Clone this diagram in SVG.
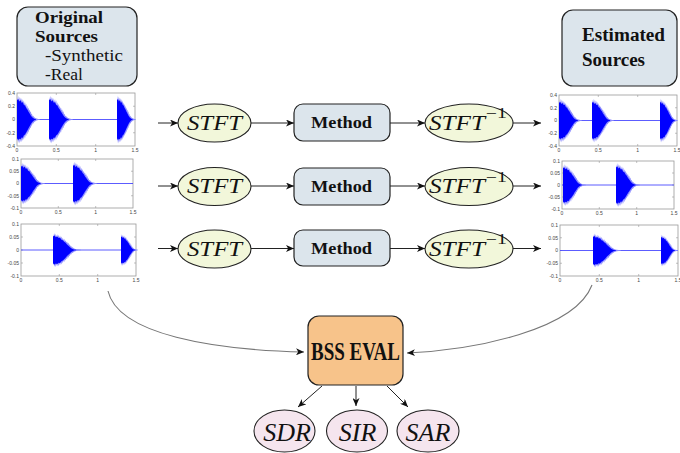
<svg xmlns="http://www.w3.org/2000/svg" xmlns:xlink="http://www.w3.org/1999/xlink" width="680" height="453" viewBox="0 0 680 453">
<style>
.box{fill:#dce5ec;stroke:#222;stroke-width:1.2}
.ell{fill:#f2f7da;stroke:#222;stroke-width:1.1}
.met{fill:#f5e5ee;stroke:#222;stroke-width:1.1}
.eval{fill:#f7c38a;stroke:#222;stroke-width:1.2}
.bt{font-family:"Liberation Serif",serif;font-weight:bold;fill:#111}
.rt{font-family:"Liberation Serif",serif;fill:#111}
.it{font-family:"Liberation Serif",serif;font-style:italic;fill:#111}
.tk{font-family:"Liberation Sans",sans-serif;font-size:5px;fill:#444}
.ax{fill:#fff;stroke:#999;stroke-width:0.8}
.tm{stroke:#999;stroke-width:0.6}
.zl{stroke:#4a4aff;stroke-width:0.9}
.cn{fill:none;stroke:#222;stroke-width:1}
.cv{fill:none;stroke:#777;stroke-width:1.1}
</style>
<defs>
<marker id="ah" markerWidth="9" markerHeight="7" refX="8" refY="3.5" orient="auto" markerUnits="userSpaceOnUse">
<path d="M0,0 L8,3.5 L0,7 L2.2,3.5 z" fill="#111"/>
</marker>
<g id="burst">
<path fill="#8a8aff" d="M0,0 L0,-0.95 0.5,-0.75 1,-1 1.5,-0.8 2,-0.95 2.5,-0.78 3,-0.92 3.5,-0.75 4,-0.9 4.5,-0.72 5,-0.85 5.5,-0.7 6,-0.8 6.5,-0.62 7,-0.72 7.5,-0.58 8,-0.66 8.5,-0.5 9,-0.58 9.5,-0.44 10,-0.5 10.5,-0.38 11,-0.42 11.5,-0.3 12,-0.34 12.5,-0.22 13,-0.24 13.5,-0.15 14,-0.16 15,-0.09 16,-0.06 17,-0.04 18.5,-0.025 20,-0.015 L20,0.015 18.5,0.025 17,0.045 16,0.07 15,0.1 14,0.18 13.5,0.16 13,0.26 12.5,0.24 12,0.36 11.5,0.32 11,0.45 10.5,0.4 10,0.55 9.5,0.48 9,0.62 8.5,0.55 8,0.7 7.5,0.62 7,0.78 6.5,0.68 6,0.85 5.5,0.74 5,0.9 4.5,0.78 4,0.95 3.5,0.8 3,0.95 2.5,0.82 2,1 1.5,0.85 1,0.98 0.5,0.8 0,0.9 z"/>
<path fill="#0000ff" d="M0,0 L0,-0.8 1,-0.85 2,-0.75 3,-0.8 4,-0.7 5,-0.72 6,-0.6 7,-0.58 8,-0.48 9,-0.42 10,-0.32 11,-0.25 12,-0.17 13,-0.1 14,-0.06 15,-0.03 16.5,-0.01 L16.5,0.01 15,0.03 14,0.07 13,0.12 12,0.2 11,0.28 10,0.36 9,0.46 8,0.54 7,0.62 6,0.66 5,0.76 4,0.75 3,0.82 2,0.8 1,0.85 0,0.78 z"/>
</g>
</defs>

<!-- Source boxes -->
<g id="orig">
<rect class="box" x="17" y="7" width="120" height="79" rx="11"/>
<text class="bt" x="35" y="23" font-size="16" textLength="68" lengthAdjust="spacingAndGlyphs">Original</text>
<text class="bt" x="35" y="42" font-size="16" textLength="63" lengthAdjust="spacingAndGlyphs">Sources</text>
<text class="rt" x="45" y="61" font-size="16.5" textLength="78" lengthAdjust="spacingAndGlyphs">-Synthetic</text>
<text class="rt" x="45" y="80" font-size="16.5" textLength="38" lengthAdjust="spacingAndGlyphs">-Real</text>
</g>
<g id="est">
<rect class="box" x="562" y="10" width="115" height="76" rx="11"/>
<text class="bt" x="582" y="41" font-size="18" textLength="83" lengthAdjust="spacingAndGlyphs">Estimated</text>
<text class="bt" x="582" y="66" font-size="18" textLength="63" lengthAdjust="spacingAndGlyphs">Sources</text>
</g>

<!-- Plots -->
<g id="plotL1" transform="translate(17,93)">
<rect class="ax" x="0" y="0" width="118" height="53"/>
<path class="tm" d="M39.3,53v-2M78.7,53v-2M39.3,0v2M78.7,0v2M0,13.25h2M0,26.5h2M0,39.75h2M118,13.25h-2M118,26.5h-2M118,39.75h-2"/>
<line class="zl" x1="0" y1="26.5" x2="118" y2="26.5"/>
<use xlink:href="#burst" transform="translate(0,26.5) scale(1.15,24)"/>
<use xlink:href="#burst" transform="translate(32,26.5) scale(1.2,24)"/>
<use xlink:href="#burst" transform="translate(100,26.5) scale(0.95,24)"/>
<g class="tk" text-anchor="end"><text x="-2" y="2">0.4</text><text x="-2" y="15">0.2</text><text x="-2" y="28">0</text><text x="-2" y="41.5">-0.2</text><text x="-2" y="55">-0.4</text></g>
<g class="tk" text-anchor="middle"><text x="0" y="59">0</text><text x="39.3" y="59">0.5</text><text x="78.7" y="59">1</text><text x="118" y="59">1.5</text></g>
</g>
<g id="plotL2" transform="translate(21,159)">
<rect class="ax" x="0" y="0" width="112" height="49"/>
<path class="tm" d="M37.3,49v-2M74.7,49v-2M37.3,0v2M74.7,0v2M0,12.25h2M0,24.5h2M0,36.75h2M112,12.25h-2M112,24.5h-2M112,36.75h-2"/>
<line class="zl" x1="0" y1="24.5" x2="112" y2="24.5"/>
<use xlink:href="#burst" transform="translate(0,24.5) scale(1.2,21)"/>
<use xlink:href="#burst" transform="translate(52,24.5) scale(1.2,22)"/>
<g class="tk" text-anchor="end"><text x="-2" y="2">0.1</text><text x="-2" y="14">0.05</text><text x="-2" y="26">0</text><text x="-2" y="38.5">-0.05</text><text x="-2" y="51">-0.1</text></g>
<g class="tk" text-anchor="middle"><text x="0" y="55">0</text><text x="37.3" y="55">0.5</text><text x="74.7" y="55">1</text><text x="112" y="55">1.5</text></g>
</g>
<g id="plotL3" transform="translate(21,224)">
<rect class="ax" x="0" y="0" width="115" height="52"/>
<path class="tm" d="M38.3,52v-2M76.7,52v-2M38.3,0v2M76.7,0v2M0,13h2M0,26h2M0,39h2M115,13h-2M115,26h-2M115,39h-2"/>
<line class="zl" x1="0" y1="26" x2="115" y2="26"/>
<use xlink:href="#burst" transform="translate(32,26) scale(1.4,17)"/>
<use xlink:href="#burst" transform="translate(100,26) scale(0.85,16)"/>
<g class="tk" text-anchor="end"><text x="-2" y="2">0.1</text><text x="-2" y="15">0.05</text><text x="-2" y="28">0</text><text x="-2" y="41">-0.05</text><text x="-2" y="54">-0.1</text></g>
<g class="tk" text-anchor="middle"><text x="0" y="58">0</text><text x="38.3" y="58">0.5</text><text x="76.7" y="58">1</text><text x="115" y="58">1.5</text></g>
</g>
<g id="plotR1" transform="translate(559,95)">
<rect class="ax" x="0" y="0" width="118" height="51"/>
<path class="tm" d="M39.3,51v-2M78.7,51v-2M39.3,0v2M78.7,0v2M0,12.75h2M0,25.5h2M0,38.25h2M118,12.75h-2M118,25.5h-2M118,38.25h-2"/>
<line class="zl" x1="0" y1="25.5" x2="118" y2="25.5"/>
<use xlink:href="#burst" transform="translate(0,25.5) scale(1.15,22)"/>
<use xlink:href="#burst" transform="translate(33,25.5) scale(1.1,22)"/>
<use xlink:href="#burst" transform="translate(101,25.5) scale(0.9,22)"/>
<g class="tk" text-anchor="end"><text x="-2" y="2">0.4</text><text x="-2" y="14.5">0.2</text><text x="-2" y="27">0</text><text x="-2" y="40">-0.2</text><text x="-2" y="53">-0.4</text></g>
<g class="tk" text-anchor="middle"><text x="0" y="57">0</text><text x="39.3" y="57">0.5</text><text x="78.7" y="57">1</text><text x="118" y="57">1.5</text></g>
</g>
<g id="plotR2" transform="translate(562,161)">
<rect class="ax" x="0" y="0" width="112" height="48"/>
<path class="tm" d="M37.3,48v-2M74.7,48v-2M37.3,0v2M74.7,0v2M0,12h2M0,24h2M0,36h2M112,12h-2M112,24h-2M112,36h-2"/>
<line class="zl" x1="0" y1="24" x2="112" y2="24"/>
<use xlink:href="#burst" transform="translate(1,24) scale(1.15,21)"/>
<use xlink:href="#burst" transform="translate(54,24) scale(1.2,22)"/>
<g class="tk" text-anchor="end"><text x="-2" y="2">0.1</text><text x="-2" y="14">0.05</text><text x="-2" y="26">0</text><text x="-2" y="38">-0.05</text><text x="-2" y="50">-0.1</text></g>
<g class="tk" text-anchor="middle"><text x="0" y="54">0</text><text x="37.3" y="54">0.5</text><text x="74.7" y="54">1</text><text x="112" y="54">1.5</text></g>
</g>
<g id="plotR3" transform="translate(560,225)">
<rect class="ax" x="0" y="0" width="118" height="51"/>
<path class="tm" d="M39.3,51v-2M78.7,51v-2M39.3,0v2M78.7,0v2M0,12.75h2M0,25.5h2M0,38.25h2M118,12.75h-2M118,25.5h-2M118,38.25h-2"/>
<line class="zl" x1="0" y1="25.5" x2="118" y2="25.5"/>
<use xlink:href="#burst" transform="translate(33,25.5) scale(1.4,17)"/>
<use xlink:href="#burst" transform="translate(101,25.5) scale(0.85,16)"/>
<g class="tk" text-anchor="end"><text x="-2" y="2">0.1</text><text x="-2" y="14.5">0.05</text><text x="-2" y="27">0</text><text x="-2" y="40">-0.05</text><text x="-2" y="53">-0.1</text></g>
<g class="tk" text-anchor="middle"><text x="0" y="57">0</text><text x="39.3" y="57">0.5</text><text x="78.7" y="57">1</text><text x="118" y="57">1.5</text></g>
</g>

<!-- Connectors -->
<g id="connectors">
<line class="cn" x1="158" y1="123" x2="178" y2="123" marker-end="url(#ah)"/>
<line class="cn" x1="251" y1="123" x2="294" y2="123" marker-end="url(#ah)"/>
<line class="cn" x1="390" y1="123" x2="425" y2="123" marker-end="url(#ah)"/>
<line class="cn" x1="513" y1="123" x2="541" y2="123" marker-end="url(#ah)"/>
<line class="cn" x1="158" y1="186" x2="178" y2="186" marker-end="url(#ah)"/>
<line class="cn" x1="251" y1="186" x2="294" y2="186" marker-end="url(#ah)"/>
<line class="cn" x1="390" y1="186" x2="425" y2="186" marker-end="url(#ah)"/>
<line class="cn" x1="513" y1="186" x2="541" y2="186" marker-end="url(#ah)"/>
<line class="cn" x1="158" y1="248.5" x2="178" y2="248.5" marker-end="url(#ah)"/>
<line class="cn" x1="251" y1="248.5" x2="294" y2="248.5" marker-end="url(#ah)"/>
<line class="cn" x1="390" y1="248.5" x2="425" y2="248.5" marker-end="url(#ah)"/>
<line class="cn" x1="513" y1="248.5" x2="541" y2="248.5" marker-end="url(#ah)"/>
<path class="cv" d="M108,291 C118,335 215,350 304,352" marker-end="url(#ah)"/>
<path class="cv" d="M592,285 C575,330 475,350 407,353" marker-end="url(#ah)"/>
<line class="cn" x1="322" y1="386" x2="298" y2="407" marker-end="url(#ah)"/>
<line class="cn" x1="356" y1="386" x2="356" y2="406" marker-end="url(#ah)"/>
<line class="cn" x1="387" y1="386" x2="408" y2="407" marker-end="url(#ah)"/>
</g>

<!-- Row 1 -->
<g id="stft1"><ellipse class="ell" cx="214.5" cy="123" rx="36.5" ry="19"/><text class="it" x="187" y="129.5" font-size="20" textLength="55" lengthAdjust="spacingAndGlyphs">STFT</text></g>
<g id="method1"><rect class="box" x="294" y="104" width="96" height="37" rx="9"/><text class="bt" x="311" y="127.5" font-size="16" textLength="61" lengthAdjust="spacingAndGlyphs">Method</text></g>
<g id="istft1"><ellipse class="ell" cx="469" cy="123" rx="44" ry="19"/><text class="it" x="429" y="129.5" font-size="20" textLength="56" lengthAdjust="spacingAndGlyphs">STFT</text><text class="rt" x="486" y="118" font-size="14" textLength="21" lengthAdjust="spacingAndGlyphs">−1</text></g>
<!-- Row 2 -->
<g id="stft2"><ellipse class="ell" cx="214.5" cy="186.5" rx="36.5" ry="19"/><text class="it" x="187" y="193" font-size="20" textLength="55" lengthAdjust="spacingAndGlyphs">STFT</text></g>
<g id="method2"><rect class="box" x="294" y="168" width="96" height="37" rx="9"/><text class="bt" x="311" y="191.5" font-size="16" textLength="61" lengthAdjust="spacingAndGlyphs">Method</text></g>
<g id="istft2"><ellipse class="ell" cx="469" cy="186.5" rx="44" ry="19"/><text class="it" x="429" y="193" font-size="20" textLength="56" lengthAdjust="spacingAndGlyphs">STFT</text><text class="rt" x="486" y="181.5" font-size="14" textLength="21" lengthAdjust="spacingAndGlyphs">−1</text></g>
<!-- Row 3 -->
<g id="stft3"><ellipse class="ell" cx="214.5" cy="249" rx="36.5" ry="19"/><text class="it" x="187" y="255.5" font-size="20" textLength="55" lengthAdjust="spacingAndGlyphs">STFT</text></g>
<g id="method3"><rect class="box" x="294" y="230" width="96" height="36" rx="9"/><text class="bt" x="311" y="253.5" font-size="16" textLength="61" lengthAdjust="spacingAndGlyphs">Method</text></g>
<g id="istft3"><ellipse class="ell" cx="469" cy="249" rx="44" ry="19"/><text class="it" x="429" y="255.5" font-size="20" textLength="56" lengthAdjust="spacingAndGlyphs">STFT</text><text class="rt" x="486" y="244" font-size="14" textLength="21" lengthAdjust="spacingAndGlyphs">−1</text></g>

<!-- Evaluation -->
<g id="bsseval"><rect class="eval" x="308" y="316" width="95" height="69" rx="11"/><text class="bt" x="311" y="360" font-size="25" textLength="89" lengthAdjust="spacingAndGlyphs">BSS EVAL</text></g>
<g id="sdr"><ellipse class="met" cx="284.5" cy="431" rx="30.5" ry="21"/><text class="it" x="287" y="441" font-size="26" text-anchor="middle">SDR</text></g>
<g id="sir"><ellipse class="met" cx="357" cy="431" rx="30.5" ry="21"/><text class="it" x="357.5" y="441" font-size="26" text-anchor="middle">SIR</text></g>
<g id="sar"><ellipse class="met" cx="428" cy="431" rx="31" ry="21"/><text class="it" x="428" y="441" font-size="26" text-anchor="middle">SAR</text></g>
</svg>
